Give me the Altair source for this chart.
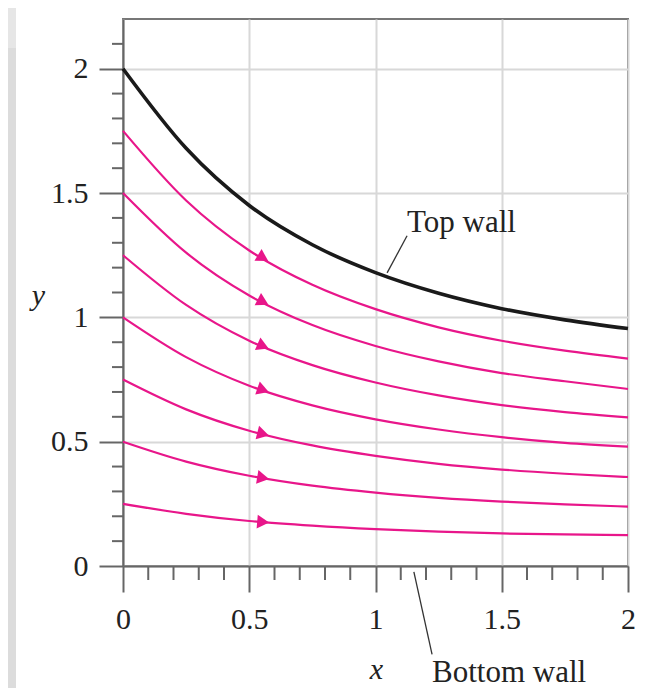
import altair as alt
import pandas as pd
import numpy as np

# ---------------- data ----------------
x_vals = [0.0, 0.25, 0.5, 0.75, 1.0, 1.25, 1.5, 1.75, 2.0]
top_wall = [2.00, 1.68, 1.45, 1.292, 1.180, 1.097, 1.035, 0.990, 0.955]
stream_175 = [1.75, 1.47, 1.269, 1.131, 1.033, 0.960, 0.906, 0.866, 0.834]
stream_150 = [1.50, 1.26, 1.088, 0.969, 0.885, 0.823, 0.776, 0.743, 0.712]
stream_125 = [1.25, 1.05, 0.906, 0.808, 0.738, 0.686, 0.647, 0.619, 0.598]
stream_100 = [1.00, 0.84, 0.725, 0.646, 0.590, 0.549, 0.518, 0.495, 0.480]
stream_075 = [0.75, 0.63, 0.544, 0.485, 0.443, 0.411, 0.388, 0.371, 0.358]
stream_050 = [0.50, 0.42, 0.363, 0.323, 0.295, 0.274, 0.259, 0.248, 0.239]
stream_025 = [0.25, 0.21, 0.181, 0.162, 0.148, 0.138, 0.131, 0.127, 0.124]
streamlines = {
    "1.75": stream_175, "1.5": stream_150, "1.25": stream_125, "1.0": stream_100,
    "0.75": stream_075, "0.5": stream_050, "0.25": stream_025,
}
arrow_x = 0.555

major_ticks = [0, 0.5, 1, 1.5, 2]
minor_x = [0.1, 0.2, 0.3, 0.4, 0.6, 0.7, 0.8, 0.9, 1.1, 1.2, 1.3, 1.4, 1.6, 1.7, 1.8, 1.9]
minor_y = [0.1, 0.2, 0.3, 0.4, 0.6, 0.7, 0.8, 0.9, 1.1, 1.2, 1.3, 1.4, 1.6, 1.7, 1.8, 1.9, 2.1]

labels_text = ["Top wall", "Bottom wall"]
labels_x = [1.125, 1.224]
labels_y = [1.344, -0.467]
leader_x = [1.125, 1.152]
leader_y = [1.328, -0.024]
leader_x2 = [1.046, 1.224]
leader_y2 = [1.179, -0.355]

# ---------------- layout ----------------
W, H = 505, 547
X_DOM, Y_DOM = [0, 2], [0, 2.2]
FONT = "Liberation Serif"
PINK = "#e8168a"
GRAY = "#666666"

xs = alt.Scale(domain=X_DOM, nice=False, zero=False)
ys = alt.Scale(domain=Y_DOM, nice=False, zero=False)

wall_df = pd.DataFrame({"x": x_vals, "y": top_wall})
rows = []
for name, vals in streamlines.items():
    for xv, yv in zip(x_vals, vals):
        rows.append({"line": name, "x": xv, "y": yv})
stream_df = pd.DataFrame(rows)

# arrowheads: placed on each streamline, rotated along its local direction
px_x = W / (X_DOM[1] - X_DOM[0])
px_y = H / (Y_DOM[1] - Y_DOM[0])
arr = []
for name, vals in streamlines.items():
    ya = float(np.interp(arrow_x, x_vals, vals))
    slope = ((vals[3] - vals[1]) / 0.5 + (vals[3] - vals[2]) / 0.25) / 2
    ang = float(np.degrees(np.arctan(-slope * px_y / px_x)))
    arr.append({"x": arrow_x, "y": ya, "angle": ang})
arrow_df = pd.DataFrame(arr)

x_axis = alt.Axis(
    values=major_ticks, format="~g", grid=True, gridColor="#d8d8d8", gridWidth=2,
    tickSize=26, tickWidth=2, tickColor=GRAY, domainColor=GRAY, domainWidth=2,
    labelFont=FONT, labelFontSize=30, labelColor="#222", labelPadding=12,
    labelFlush=False, labelOverlap=False,
    title="x", titleFont=FONT, titleFontSize=30, titleFontStyle="italic",
    titleFontWeight="normal", titleColor="#222", titleX=253, titleY=103,
    titleAlign="center", titleBaseline="middle",
)
y_axis = alt.Axis(
    values=major_ticks, format="~g", grid=True, gridColor="#d8d8d8", gridWidth=2,
    tickSize=24, tickWidth=2, tickColor=GRAY, domainColor=GRAY, domainWidth=2,
    labelFont=FONT, labelFontSize=30, labelColor="#222", labelPadding=11,
    labelFlush=False, labelOverlap=False,
    title="y", titleFont=FONT, titleFontSize=30, titleFontStyle="italic",
    titleFontWeight="normal", titleColor="#222", titleAngle=0, titleX=-85, titleY=276,
    titleAlign="center", titleBaseline="middle",
)


def X(field):
    return alt.X(field, scale=xs, axis=x_axis, title="x")


def Y(field):
    return alt.Y(field, scale=ys, axis=y_axis, title="y")


one = pd.DataFrame({"a": [0]})
strip_light = alt.Chart(one).mark_rect(color="#e6e6e6").encode(
    x=alt.value(-115), x2=alt.value(-107), y=alt.value(-11), y2=alt.value(29))
strip_dark = alt.Chart(one).mark_rect(color="#dcdcdc").encode(
    x=alt.value(-115), x2=alt.value(-107), y=alt.value(29), y2=alt.value(H + 130))

wall = alt.Chart(wall_df).mark_line(color="#1a1a1a", strokeWidth=3.6, interpolate="monotone").encode(
    x=X("x:Q"), y=Y("y:Q"),
)

stream = alt.Chart(stream_df).mark_line(color=PINK, strokeWidth=2.2, interpolate="monotone").encode(
    x=X("x:Q"), y=Y("y:Q"), detail="line:N",
)

arrows = alt.Chart(arrow_df).mark_point(shape="triangle-right", filled=True, size=190,
                                        color=PINK, opacity=1).encode(
    x=X("x:Q"), y=Y("y:Q"), angle=alt.Angle("angle:Q", scale=None),
)

minor_x_ticks = alt.Chart(pd.DataFrame({"v": minor_x})).mark_rule(color=GRAY, strokeWidth=2).encode(
    x=X("v:Q"), y=alt.value(H), y2=alt.value(H + 14))
minor_y_ticks = alt.Chart(pd.DataFrame({"v": minor_y})).mark_rule(color=GRAY, strokeWidth=2).encode(
    y=Y("v:Q"), x=alt.value(0), x2=alt.value(-11))

lead_df = pd.DataFrame({"x": leader_x, "y": leader_y, "x2": leader_x2, "y2": leader_y2})
leaders = alt.Chart(lead_df).mark_rule(color="#333", strokeWidth=1.3).encode(
    x=X("x:Q"), y=Y("y:Q"), x2="x2:Q", y2="y2:Q")

lab_df = pd.DataFrame({"t": labels_text, "x": labels_x, "y": labels_y})
labels = alt.Chart(lab_df).mark_text(font=FONT, fontSize=31, color="#222", align="left",
                                     baseline="alphabetic").encode(
    x=X("x:Q"), y=Y("y:Q"), text="t:N")

chart = alt.layer(
    strip_light, strip_dark, wall, stream, arrows, minor_x_ticks, minor_y_ticks, leaders, labels
).properties(
    width=W, height=H,
    padding={"left": 115, "top": 11, "right": 10, "bottom": 122},
    autosize=alt.AutoSizeParams(type="none"),
    background="white",
).configure_view(stroke="#777777", strokeWidth=2)

chart.save("out.html", embed_options={"renderer": "svg", "actions": False})
